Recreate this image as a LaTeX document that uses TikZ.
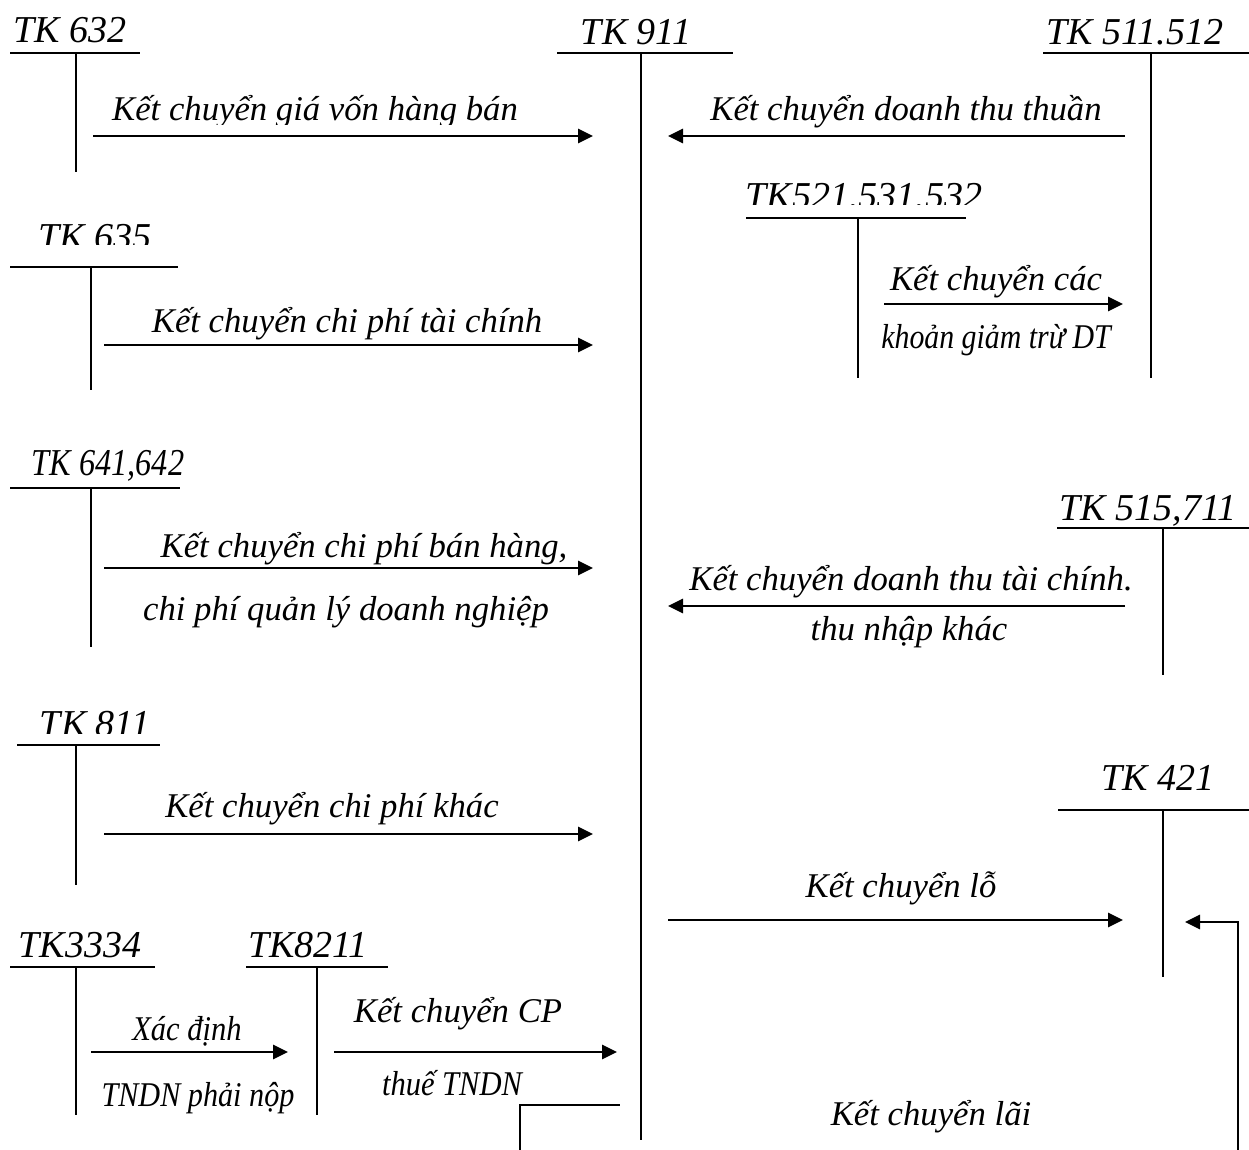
\documentclass[tikz,border=0pt]{standalone}
\usepackage{fontspec}
\setmainfont{Liberation Serif}
\usetikzlibrary{arrows.meta}
\newcommand{\narrow}[2][0.84]{\scalebox{#1}[1]{#2}}
\begin{document}
\begin{tikzpicture}[x=1pt,y=-1pt,
  acct/.style={line width=1.8pt},
  flow/.style={line width=2.9pt,-{Triangle[length=15pt,width=14pt]}},
  lbl/.style={anchor=base,inner sep=0pt,font=\fontsize{38}{42}\selectfont\itshape},
  caption/.style={anchor=base,inner sep=0pt,font=\fontsize{34.7}{40}\selectfont\itshape},
]
\useasboundingbox (0,0) rectangle (1249,1150);

% ---- T-accounts: title, top bar, vertical stem ----
\node[lbl] (t632) at (70,43) {TK 632};
\draw[acct] (10,53) -- (140,53) (76,53) -- (76,172);

\node[lbl] (t911) at (636,45) {TK 911};
\draw[acct] (557,53) -- (733,53) (641,53) -- (641,1140);

\node[lbl] (t511) at (1135,45) {TK 511.512};
\draw[acct] (1043,53) -- (1249,53) (1151,53) -- (1151,378);

\begin{scope}
  \clip (700,150) rectangle (1000,205);
  \node[lbl] (t521) at (864,209) {TK521.531.532};
\end{scope}
\draw[acct] (746,218) -- (966,218) (858,218) -- (858,378);

\begin{scope}
  \clip (0,200) rectangle (200,245);
  \node[lbl] (t635) at (95,249) {TK 635};
\end{scope}
\draw[acct] (10,267) -- (178,267) (91,267) -- (91,390);

\node[lbl] (t641) at (108,475) {\narrow[0.85]{TK 641,642}};
\draw[acct] (10,488) -- (180,488) (91,488) -- (91,647);

\node[lbl] (t515) at (1148,520) {TK 515,711};
\draw[acct] (1057,528) -- (1249,528) (1163,528) -- (1163,675);

\begin{scope}
  \clip (0,680) rectangle (200,733);
  \node[lbl] (t811) at (95,736) {TK 811};
\end{scope}
\draw[acct] (17,745) -- (160,745) (76,745) -- (76,885);

\node[lbl] (t421) at (1158,790) {TK 421};
\draw[acct] (1058,810) -- (1249,810) (1163,810) -- (1163,977);

\node[lbl] (t3334) at (80,957) {TK3334};
\draw[acct] (10,967) -- (155,967) (76,967) -- (76,1115);

\node[lbl] (t8211) at (308,957) {TK8211};
\draw[acct] (246,967) -- (388,967) (317,967) -- (317,1115);

% ---- arrow end points ----
\coordinate (a1s) at (93,136);   \coordinate (a1e) at (593,136);
\coordinate (a2s) at (1125,136); \coordinate (a2e) at (668,136);
\coordinate (a3s) at (884,304);  \coordinate (a3e) at (1123,304);
\coordinate (a4s) at (104,345);  \coordinate (a4e) at (593,345);
\coordinate (a5s) at (104,568);  \coordinate (a5e) at (593,568);
\coordinate (a6s) at (1125,606); \coordinate (a6e) at (668,606);
\coordinate (a7s) at (104,834);  \coordinate (a7e) at (593,834);
\coordinate (a8s) at (668,920);  \coordinate (a8e) at (1123,920);
\coordinate (a9s) at (1238,1150); \coordinate (a9c) at (1238,922); \coordinate (a9e) at (1185,922);
\coordinate (a10s) at (91,1052); \coordinate (a10e) at (288,1052);
\coordinate (a11s) at (334,1052); \coordinate (a11e) at (617,1052);
\coordinate (b1) at (520,1150); \coordinate (b2) at (520,1105); \coordinate (b3) at (620,1105);

% ---- transfers ----
\draw[flow] (a1s) -- (a1e);
\begin{scope}
  \clip (80,80) rectangle (600,125);
  \node[caption] (c1) at (315,121) {Kết chuyển giá vốn hàng bán};
\end{scope}

\draw[flow] (a2s) -- (a2e);
\node[caption] (c2) at (906,121) {Kết chuyển doanh thu thuần};

\draw[flow] (a3s) -- (a3e);
\node[caption] (c3) at (996,290) {Kết chuyển các};
\node[caption] (c3b) at (996,348) {\narrow[0.86]{khoản giảm trừ DT}};

\draw[flow] (a4s) -- (a4e);
\node[caption] (c4) at (347,332) {Kết chuyển chi phí tài chính};

\draw[flow] (a5s) -- (a5e);
\node[caption] (c5) at (364,557) {Kết chuyển chi phí bán hàng,};
\node[caption] (c5b) at (346,620) {chi phí quản lý doanh nghiệp};

\draw[flow] (a6s) -- (a6e);
\node[caption] (c6) at (911,590) {Kết chuyển doanh thu tài chính.};
\node[caption] (c6b) at (909,640) {thu nhập khác};

\draw[flow] (a7s) -- (a7e);
\node[caption] (c7) at (332,817) {Kết chuyển chi phí khác};

\draw[flow] (a8s) -- (a8e);
\node[caption] (c8) at (901,897) {Kết chuyển lỗ};

\draw[flow] (a9s) -- (a9c) -- (a9e);
\node[caption] (c9) at (931,1125) {Kết chuyển lãi};

\draw[flow] (a10s) -- (a10e);
\node[caption] (c10) at (187,1040) {\narrow[0.88]{Xác định}};
\node[caption] (c10b) at (198,1106) {\narrow[0.87]{TNDN phải nộp}};

\draw[flow] (a11s) -- (a11e);
\node[caption] (c11) at (458,1022) {Kết chuyển CP};
\node[caption] (c11b) at (452,1095) {\narrow[0.88]{thuế TNDN}};

\draw[acct] (b1) -- (b2) -- (b3);
\end{tikzpicture}
\end{document}
